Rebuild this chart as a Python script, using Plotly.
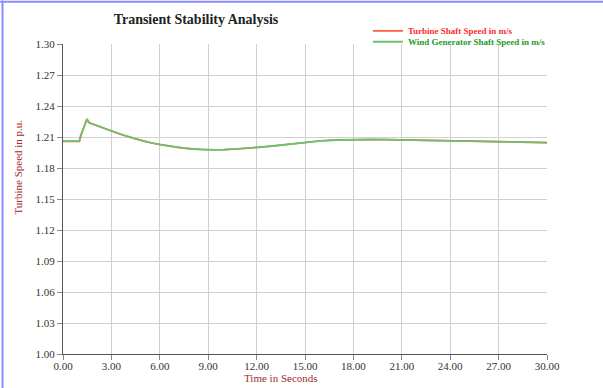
import plotly.graph_objects as go

# Simulation time (s)
time_s = [0, 1.0, 1.1, 1.5, 1.65, 2.0, 2.5, 3.0, 3.5, 4.0, 4.5, 5.0, 5.5, 6.0, 6.5,
          7.0, 7.5, 8.0, 8.5, 9.0, 9.5, 10, 11, 12, 13, 14, 15, 16, 17, 18, 19,
          20, 21, 22, 23, 24, 25, 26, 27, 28, 29, 30]

# Wind generator shaft speed (p.u.)
generator_speed = [1.206, 1.206, 1.212, 1.227, 1.2235, 1.2215, 1.2185, 1.2158, 1.2130,
                   1.2105, 1.2082, 1.2060, 1.2042, 1.2027, 1.2013, 1.2002, 1.1992,
                   1.1984, 1.1979, 1.1976, 1.1976, 1.1978, 1.1987, 1.1998, 1.2013,
                   1.2030, 1.2048, 1.2063, 1.2071, 1.2075, 1.2076, 1.2075, 1.2072,
                   1.2069, 1.2067, 1.2065, 1.2062, 1.2059, 1.2057, 1.2053, 1.2049,
                   1.2046]

# Turbine shaft speed (p.u.)
turbine_time_s = [0, 1.02, 1.12, 1.48, 1.6, 2.0, 2.5, 3.0, 3.5, 4.0, 4.5, 5.0, 5.5, 6.0,
                  6.5, 7.0, 7.5, 8.0, 8.5, 9.0, 9.5, 10, 11, 12, 13, 14, 15, 16, 17,
                  18, 19, 20, 21, 22, 23, 24, 25, 26, 27, 28, 29, 30]
turbine_speed = [1.2058, 1.2058, 1.2115, 1.2276, 1.2240, 1.2215, 1.2185, 1.2158, 1.2130,
                 1.2105, 1.2082, 1.2060, 1.2042, 1.2027, 1.2013, 1.2002, 1.1992,
                 1.1984, 1.1979, 1.1976, 1.1976, 1.1978, 1.1987, 1.1998, 1.2013,
                 1.2030, 1.2048, 1.2063, 1.2071, 1.2075, 1.2076, 1.2075, 1.2072,
                 1.2069, 1.2067, 1.2065, 1.2062, 1.2059, 1.2057, 1.2053, 1.2049,
                 1.2046]

x_ticks = [0, 3, 6, 9, 12, 15, 18, 21, 24, 27, 30]
y_ticks = [1.00, 1.03, 1.06, 1.09, 1.12, 1.15, 1.18, 1.21, 1.24, 1.27, 1.30]

RED = "#ff2a2a"
GREEN = "#1f9a1f"
BROWN = "#a3292c"
SERIF = "Liberation Serif"

fig = go.Figure()
fig.add_trace(go.Scatter(
    x=turbine_time_s, y=turbine_speed, mode="lines",
    name=f'<span style="color:{RED}"><b>Turbine Shaft Speed in m/s</b></span>',
    line=dict(color="#ff5a3a", width=1.6),
    legend="legend",
))
fig.add_trace(go.Scatter(
    x=time_s, y=generator_speed, mode="lines",
    name=f'<span style="color:{GREEN}"><b>Wind Generator Shaft Speed in m/s</b></span>',
    line=dict(color="#6cc16c", width=1.8),
    legend="legend2",
))

axis_common = dict(
    showgrid=True, gridcolor="#d0d0d0", gridwidth=1,
    showline=True, linecolor="#555555", linewidth=1,
    ticks="outside", ticklen=5, tickcolor="#888888",
    tickfont=dict(family=SERIF, size=11, color="#333333"),
    tickformat=".2f", zeroline=False,
)

fig.update_xaxes(range=[0, 30], tickvals=x_ticks, ticklabelstandoff=-3, **axis_common)
fig.update_yaxes(range=[1.00, 1.30], tickvals=y_ticks, **axis_common)

# Frame lines along the left and top edges of the page
frame = "#8c8cff"
fig.add_shape(type="line", xref="paper", yref="paper", x0=-0.125, x1=-0.125,
              y0=-0.12, y1=1.14, line=dict(color=frame, width=2))
fig.add_shape(type="line", xref="paper", yref="paper", x0=-0.13, x1=1.12,
              y0=1.136, y1=1.136, line=dict(color=frame, width=2))

fig.add_annotation(text="Time in Seconds", xref="paper", yref="paper",
                   x=0.45, y=-0.053, xanchor="center", yanchor="top",
                   showarrow=False, font=dict(family=SERIF, size=11, color=BROWN))
fig.add_annotation(text="Turbine Speed in p.u.", xref="paper", yref="paper",
                   x=-0.092, y=0.603, textangle=-90, xanchor="center",
                   yanchor="middle", showarrow=False,
                   font=dict(family=SERIF, size=11, color=BROWN))

legend_common = dict(xanchor="left", yanchor="top", bgcolor="rgba(0,0,0,0)",
                     font=dict(family=SERIF, size=9), itemwidth=30)

fig.update_layout(
    width=603, height=388,
    margin=dict(l=63, r=56, t=44, b=34),
    paper_bgcolor="white", plot_bgcolor="white",
    title=dict(text="<b>Transient Stability Analysis</b>", x=0.325, xanchor="center",
               y=0.95, yanchor="middle",
               font=dict(family=SERIF, size=14, color="#222222")),
    showlegend=True,
    legend=dict(x=0.63, y=1.089, **legend_common),
    legend2=dict(x=0.63, y=1.054, **legend_common),
)

fig.write_html("out.html")
